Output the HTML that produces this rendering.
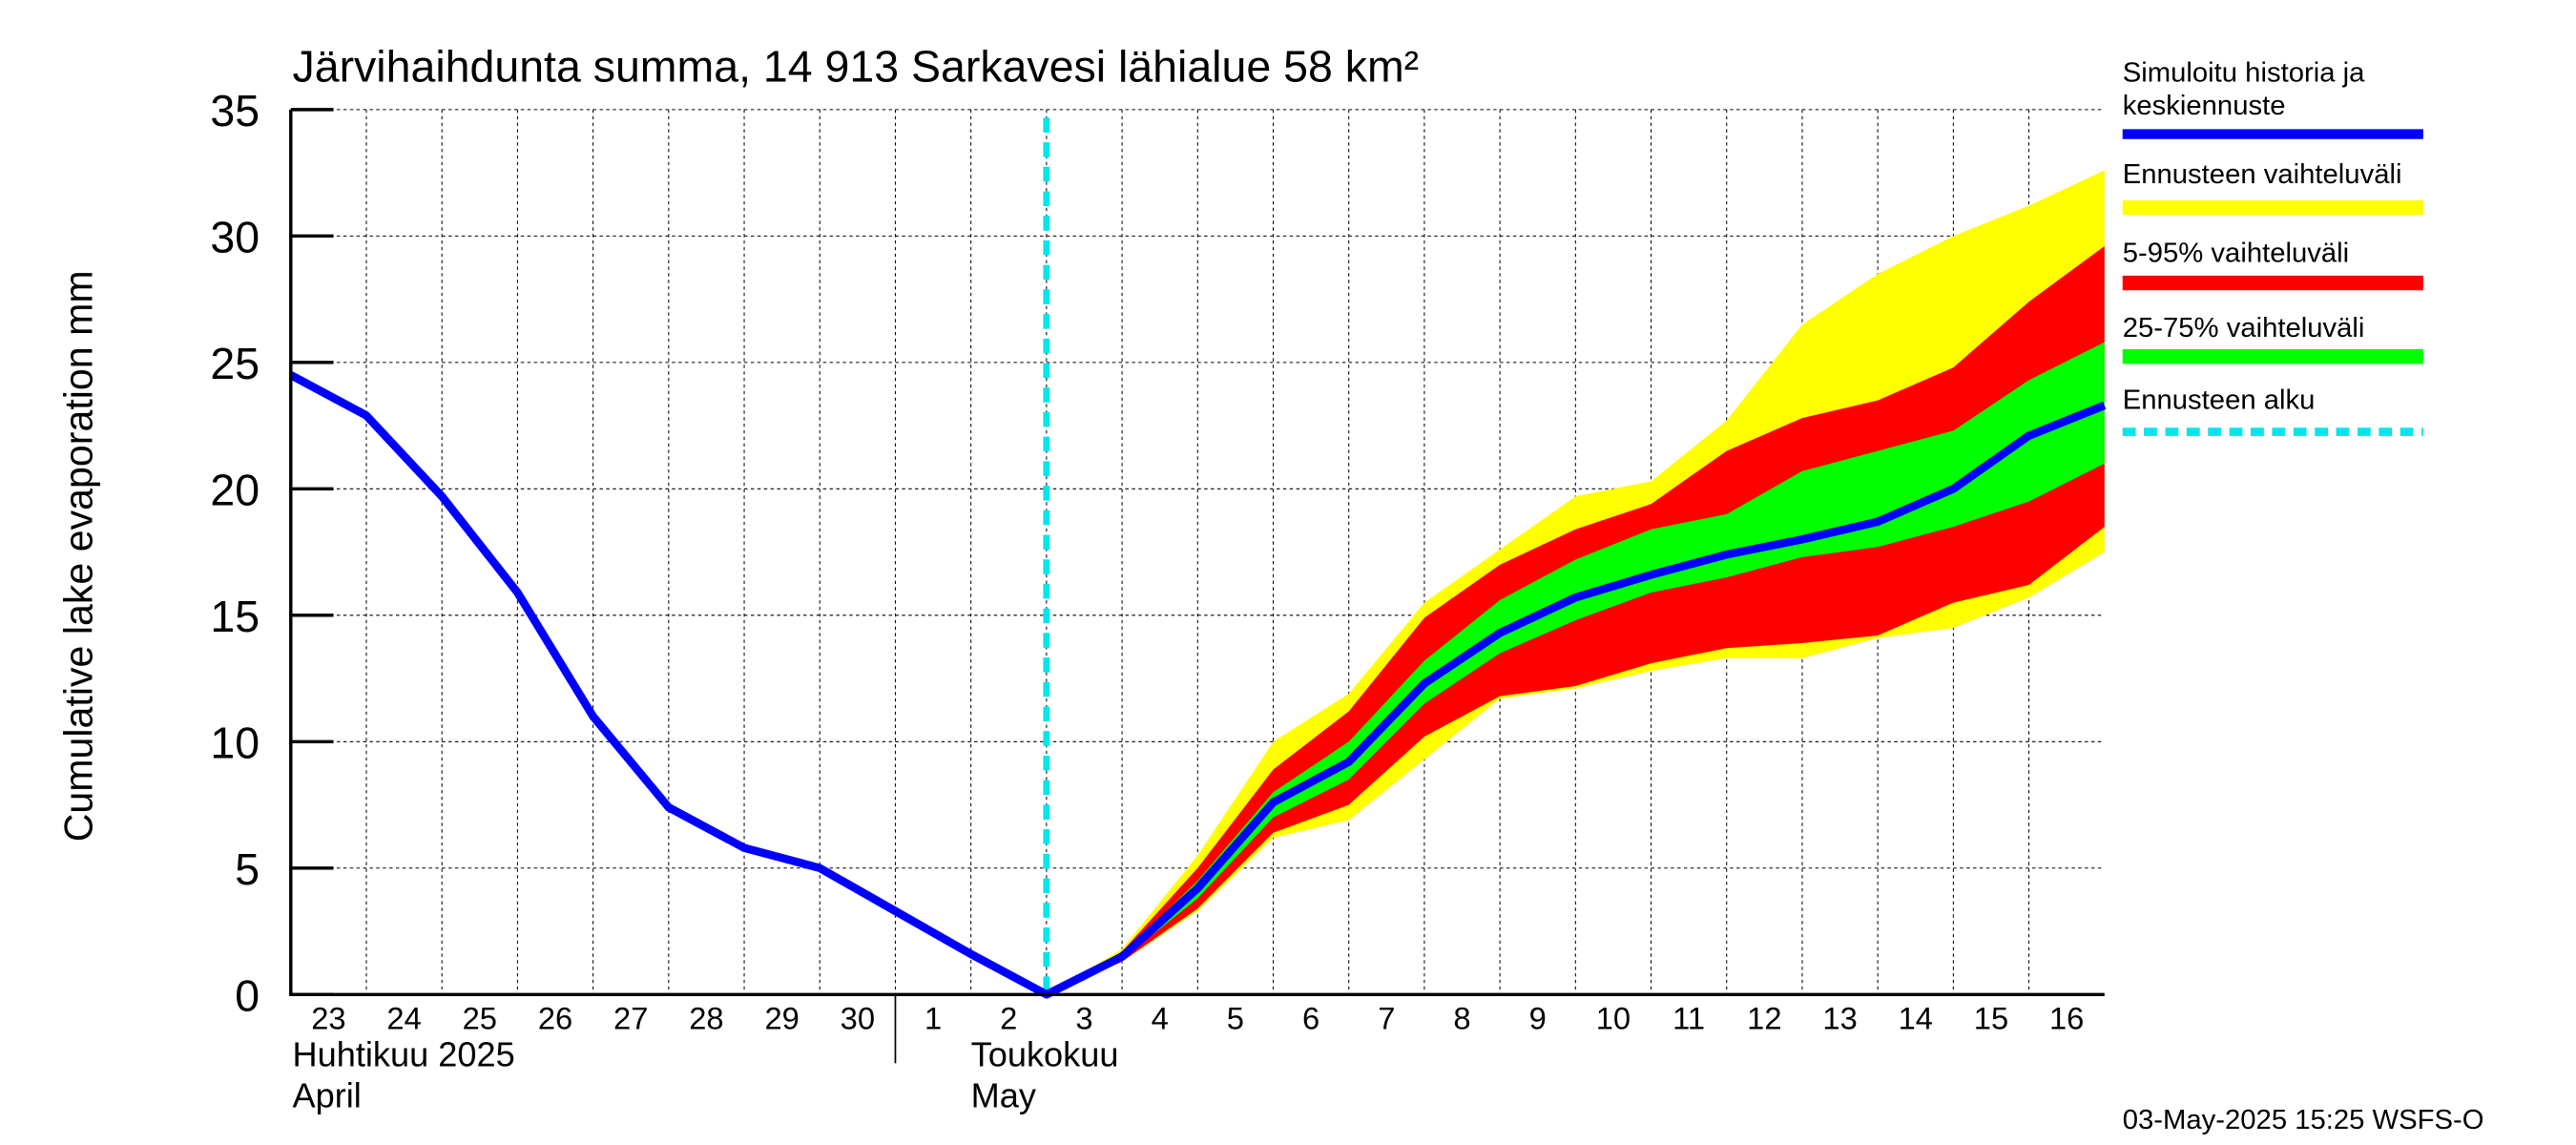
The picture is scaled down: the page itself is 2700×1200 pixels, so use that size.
<!DOCTYPE html>
<html><head><meta charset="utf-8"><style>html,body{margin:0;padding:0;background:#fff}svg{display:block}</style></head>
<body>
<svg id="chart" width="2700" height="1200" viewBox="0 0 1568 700" preserveAspectRatio="none" xmlns="http://www.w3.org/2000/svg" font-family="Liberation Sans, sans-serif">
<rect width="1568" height="700" fill="#fff"/>
<text x="178" y="50" font-size="27">Järvihaihdunta summa, 14 913 Sarkavesi lähialue 58 km²</text>
<text transform="translate(56,340) rotate(-90)" text-anchor="middle" font-size="24">Cumulative lake evaporation   mm</text>
<g id="grid"></g>
<g id="bands"></g>
<g id="axes"></g>
<g id="legend">
<text x="1292" y="50" font-size="17">Simuloitu historia ja</text>
<text x="1292" y="70" font-size="17">keskiennuste</text>
<line x1="1292" x2="1475" y1="82" y2="82" stroke="#0000ff" stroke-width="6"/>
<text x="1292" y="112" font-size="17">Ennusteen vaihteluväli</text>
<line x1="1292" x2="1475" y1="127" y2="127" stroke="#ffff00" stroke-width="9"/>
<text x="1292" y="160" font-size="17">5-95% vaihteluväli</text>
<line x1="1292" x2="1475" y1="173" y2="173" stroke="#ff0000" stroke-width="9"/>
<text x="1292" y="206" font-size="17">25-75% vaihteluväli</text>
<line x1="1292" x2="1475" y1="218" y2="218" stroke="#00ff00" stroke-width="9"/>
<text x="1292" y="250" font-size="17">Ennusteen alku</text>
<line x1="1292" x2="1475" y1="264" y2="264" stroke="#00e5ee" stroke-width="5" stroke-dasharray="8,5"/>
</g>
<text x="1292" y="690" font-size="17">03-May-2025 15:25 WSFS-O</text>
</svg>
<script>
const dayLabels=["23","24","25","26","27","28","29","30","1","2","3","4","5","6","7","8","9","10","11","12","13","14","15","16"];
const yTicks=[0,5,10,15,20,25,30,35];
const history=[24.5,22.9,19.7,15.9,11.0,7.4,5.8,5.0,3.3,1.6,0];
const fcStart=10;
const median=[0,1.5,4.2,7.6,9.2,12.3,14.3,15.7,16.6,17.4,18.0,18.7,20.0,22.1,23.3];
const rangeMax=[0,1.8,5.5,10.0,11.9,15.5,17.6,19.7,20.3,22.7,26.5,28.5,30.0,31.2,32.6];
const rangeMin=[0,1.3,3.3,6.2,6.9,9.3,11.7,12.1,12.8,13.3,13.3,14.1,14.5,15.7,17.5];
const p95=[0,1.7,5.0,8.9,11.2,14.9,17.0,18.4,19.4,21.5,22.8,23.5,24.8,27.4,29.6];
const p05=[0,1.3,3.4,6.4,7.5,10.2,11.8,12.2,13.1,13.7,13.9,14.2,15.5,16.2,18.5];
const p75=[0,1.6,4.5,8.0,10.0,13.2,15.6,17.2,18.4,19.0,20.7,21.5,22.3,24.3,25.8];
const p25=[0,1.4,3.8,7.0,8.5,11.5,13.5,14.8,15.9,16.5,17.3,17.7,18.5,19.5,21.0];
const X0=177,X1=1281,Y0=608,Y1=67,NDAYS=24,YMAX=35;
const sx=i=>X0+(X1-X0)*i/NDAYS;
const sy=v=>Y0-(Y0-Y1)*v/YMAX;
const NS="http://www.w3.org/2000/svg";
function mk(parent,tag,attrs){const e=document.createElementNS(NS,tag);for(const k in attrs)e.setAttribute(k,attrs[k]);parent.appendChild(e);return e;}
const grid=document.getElementById('grid'),axes=document.getElementById('axes'),bands=document.getElementById('bands'),svg=document.getElementById('chart');
for(let i=1;i<NDAYS;i++){const l=mk(grid,'line',{x1:sx(i),x2:sx(i),y1:Y1,y2:Y0,stroke:'#000','stroke-width':0.6,'stroke-dasharray':'2,2'});

}
yTicks.forEach(v=>{if(v>0){const l=mk(grid,'line',{x1:X0,x2:X1,y1:sy(v),y2:sy(v),stroke:'#000','stroke-width':0.6,'stroke-dasharray':'2,2'});

}
const t=mk(axes,'line',{x1:X0,x2:X0+26,y1:sy(v),y2:sy(v),stroke:'#000','stroke-width':2});


const tx=mk(axes,'text',{x:158,y:sy(v)+10,'text-anchor':'end','font-size':27});tx.textContent=v;

});
function band(hi,lo,color,name){let pts=[];hi.forEach((v,i)=>pts.push(sx(fcStart+i)+','+sy(v)));for(let i=lo.length-1;i>=0;i--)pts.push(sx(fcStart+i)+','+sy(lo[i]));
const p=mk(bands,'polygon',{points:pts.join(' '),fill:color});

}
band(rangeMax,rangeMin,'#ffff00','range-band');
band(p95,p05,'#ff0000','band-5-95');
band(p75,p25,'#00ff00','band-25-75');
const fl=mk(bands,'line',{x1:sx(fcStart),x2:sx(fcStart),y1:Y1+5,y2:Y0,stroke:'#00e5ee','stroke-width':4,'stroke-dasharray':'9,6'});


const all=history.concat(median.slice(1));
const ml=mk(bands,'polyline',{points:all.map((v,i)=>sx(i)+','+sy(v)).join(' '),fill:'none',stroke:'#0000ff','stroke-width':5,'stroke-linejoin':'round'});


const ax=mk(axes,'polyline',{points:`${X0},${Y1} ${X0},${Y0} ${X1},${Y0}`,fill:'none',stroke:'#000','stroke-width':2});


dayLabels.forEach((d,i)=>{const t=mk(axes,'text',{x:(sx(i)+sx(i+1))/2,y:629,'text-anchor':'middle','font-size':19});t.textContent=d;

});
const sep=mk(axes,'line',{x1:sx(8),x2:sx(8),y1:Y0,y2:650,stroke:'#000','stroke-width':1});


[["Huhtikuu  2025",178,652],["April",178,677],["Toukokuu",591,652],["May",591,677]].forEach(a=>{const t=mk(axes,'text',{x:a[1],y:a[2],'font-size':21});t.textContent=a[0];

});
</script>
</body></html>
